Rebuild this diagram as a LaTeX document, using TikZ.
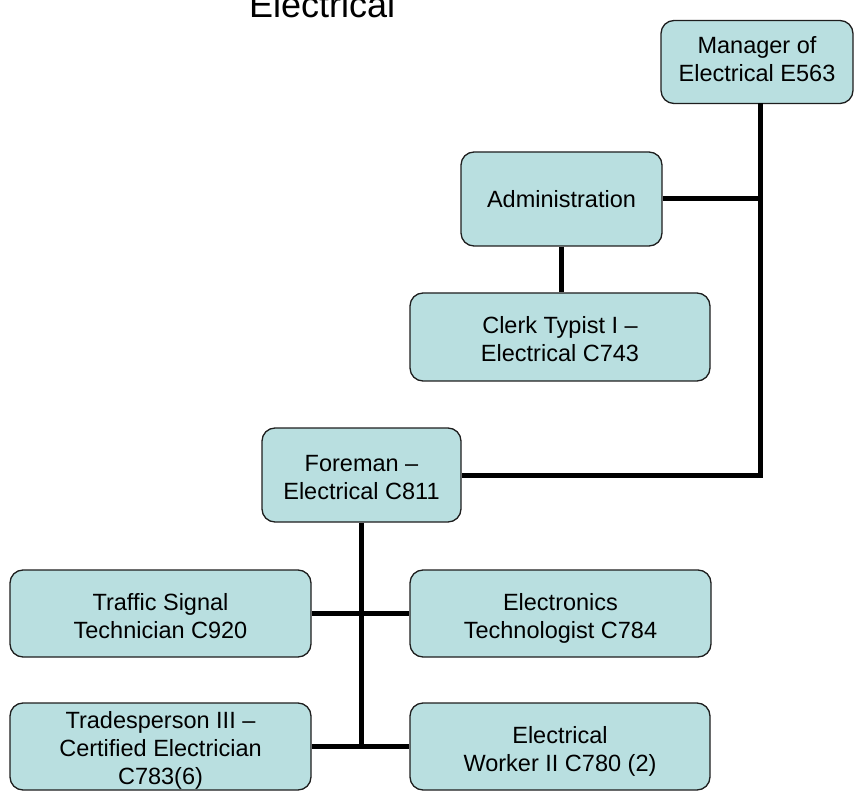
\documentclass[tikz,border=0pt]{standalone}
\usepackage{fontspec}
\setmainfont{Liberation Sans}
\definecolor{boxfill}{RGB}{185,223,224}
\definecolor{boxline}{RGB}{30,30,30}
\tikzset{
  orgbox/.style={draw=boxline, line width=1.3pt, fill=boxfill, rounded corners=13pt,
    inner sep=0pt, align=center, font=\fontsize{23.5}{28}\selectfont,
    execute at begin node={\rule{0pt}{#1}},
    execute at end node={\rule[-5.5pt]{0pt}{5.5pt}}},
  orgbox/.default=54.5pt,
  link/.style={line width=5pt, draw=black}
}
\begin{document}
\begin{tikzpicture}[x=1pt,y=-1pt]
\useasboundingbox (0,0) rectangle (854,791);
\clip (0,0) rectangle (854,791);
\node[anchor=base west, inner sep=0pt, font=\fontsize{36}{40}\selectfont] (title) at (249,18) {Electrical};
\node[orgbox=43.5pt, minimum width=192pt, minimum height=83pt] (man) at (757,62) {Manager of\\Electrical E563};
\node[orgbox=23.5pt, minimum width=201pt, minimum height=94pt] (admin) at (561.5,199) {Administration};
\node[orgbox, minimum width=300pt, minimum height=88pt] (clerk) at (560,337) {Clerk Typist I –\\Electrical C743};
\node[orgbox, minimum width=199pt, minimum height=94pt] (fore) at (361.5,475) {Foreman –\\Electrical C811};
\node[orgbox, minimum width=301pt, minimum height=87pt] (traffic) at (160.5,613.5) {Traffic Signal\\Technician C920};
\node[orgbox, minimum width=301pt, minimum height=87pt] (etech) at (560.5,613.5) {Electronics\\Technologist C784};
\node[orgbox=80.5pt, minimum width=301pt, minimum height=87pt] (trades) at (160.5,746.5) {Tradesperson III –\\Certified Electrician\\C783(6)};
\node[orgbox, minimum width=300pt, minimum height=87pt] (worker) at (560,746.5) {Electrical\\Worker II C780 (2)};
\coordinate (mtop) at (760,103.5);
\draw[link] (mtop) -- (mtop |- fore.east) -- (fore.east);
\draw[link] (admin.east) -- (admin.east -| mtop);
\draw[link] (admin.south) -- (admin.south |- clerk.north);
\draw[link] (fore.south) -- (fore.south |- trades.east);
\draw[link] (traffic.east) -- (etech.west);
\draw[link] (trades.east) -- (worker.west);
\end{tikzpicture}
\end{document}
